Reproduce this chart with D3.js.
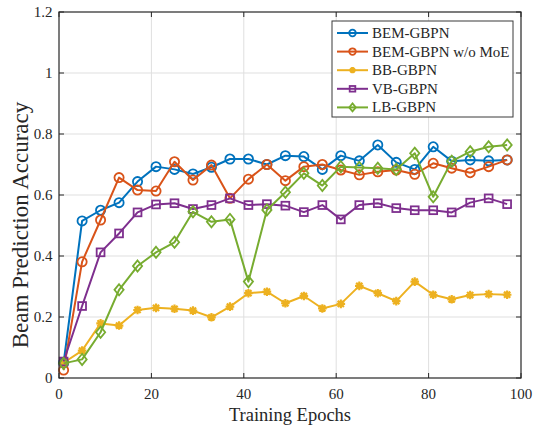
<!DOCTYPE html>
<html>
<head>
<meta charset="utf-8">
<script src="https://cdn.jsdelivr.net/npm/d3@7"></script>
<style>
  html, body { margin: 0; padding: 0; background: #fff; }
  svg { display: block; }
  text { font-family: "Liberation Serif", "Times New Roman", serif; fill: #262626; }
</style>
</head>
<body>
<svg id="chart" width="537" height="426"></svg>
<script>
// Training epochs at which accuracy was evaluated
const epochs = [1, 5, 9, 13, 17, 21, 25, 29, 33, 37, 41, 45, 49, 53, 57, 61, 65, 69, 73, 77, 81, 85, 89, 93, 97];

// Beam prediction accuracy per model
const bemGbpn = [0.050, 0.515, 0.550, 0.575, 0.644, 0.693, 0.684, 0.669, 0.691, 0.718, 0.718, 0.700, 0.729, 0.726, 0.684, 0.729, 0.712, 0.764, 0.707, 0.684, 0.758, 0.711, 0.715, 0.712, 0.715];
const bemGbpnNoMoe = [0.026, 0.381, 0.518, 0.657, 0.616, 0.613, 0.709, 0.649, 0.698, 0.589, 0.652, 0.700, 0.647, 0.693, 0.700, 0.682, 0.666, 0.676, 0.682, 0.668, 0.704, 0.688, 0.673, 0.693, 0.715];
const bbGbpn = [0.050, 0.090, 0.179, 0.172, 0.223, 0.230, 0.227, 0.221, 0.199, 0.234, 0.278, 0.283, 0.245, 0.269, 0.228, 0.243, 0.302, 0.278, 0.252, 0.316, 0.273, 0.258, 0.272, 0.275, 0.273];
const vbGbpn = [0.054, 0.236, 0.412, 0.474, 0.543, 0.569, 0.573, 0.554, 0.567, 0.589, 0.567, 0.570, 0.565, 0.544, 0.567, 0.520, 0.567, 0.573, 0.557, 0.550, 0.550, 0.543, 0.575, 0.589, 0.570];
const lbGbpn = [0.048, 0.061, 0.150, 0.289, 0.367, 0.412, 0.445, 0.545, 0.512, 0.520, 0.316, 0.551, 0.609, 0.671, 0.631, 0.693, 0.690, 0.688, 0.684, 0.737, 0.594, 0.711, 0.742, 0.758, 0.764];

const seriesNames = ["BEM-GBPN", "BEM-GBPN w/o MoE", "BB-GBPN", "VB-GBPN", "LB-GBPN"];
const seriesValues = [bemGbpn, bemGbpnNoMoe, bbGbpn, vbGbpn, lbGbpn];
const seriesColors = ["#0072BD", "#D95319", "#EDB120", "#7E2F8E", "#77AC30"];
const seriesMarkers = ["circle", "circle", "asterisk", "square", "diamond"];

const xTicks = [0, 20, 40, 60, 80, 100];
const yTicks = [0, 0.2, 0.4, 0.6, 0.8, 1.0, 1.2];
const yTickLabels = ["0", "0.2", "0.4", "0.6", "0.8", "1", "1.2"];

const margin = { left: 59, right: 16, top: 12, bottom: 48 };
const W = 537, H = 426;
const plotL = margin.left, plotR = W - margin.right, plotT = margin.top, plotB = H - margin.bottom;

const x = d3.scaleLinear().domain([0, 100]).range([plotL, plotR]);
const y = d3.scaleLinear().domain([0, 1.2]).range([plotB, plotT]);

const svg = d3.select("#chart");
const axisColor = "#262626";

// grid
const grid = svg.append("g");
grid.selectAll(".gx").data(xTicks.slice(1, -1)).join("line")
  .attr("x1", d => x(d)).attr("x2", d => x(d))
  .attr("y1", plotT).attr("y2", plotB)
  .attr("stroke", "#dfdfdf").attr("stroke-width", 1);
grid.selectAll(".gy").data(yTicks.slice(1, -1)).join("line")
  .attr("x1", plotL).attr("x2", plotR)
  .attr("y1", d => y(d)).attr("y2", d => y(d))
  .attr("stroke", "#dfdfdf").attr("stroke-width", 1);

// marker drawing
function drawMarker(g, type, color, s) {
  if (type === "circle") {
    g.append("circle").attr("r", 4.6 * s).attr("fill", "none")
      .attr("stroke", color).attr("stroke-width", 1.8);
  } else if (type === "square") {
    const h = 3.9 * s;
    g.append("rect").attr("x", -h).attr("y", -h).attr("width", 2 * h).attr("height", 2 * h)
      .attr("fill", "none").attr("stroke", color).attr("stroke-width", 1.8);
  } else if (type === "diamond") {
    const w = 4.6 * s, h = 5.6 * s;
    g.append("path").attr("d", `M0,${-h}L${w},0L0,${h}L${-w},0Z`)
      .attr("fill", "none").attr("stroke", color).attr("stroke-width", 1.8);
  } else if (type === "asterisk") {
    const r = 4.3 * s, rd = r * 0.72;
    g.append("path")
      .attr("d", `M${-r},0L${r},0M0,${-r}L0,${r}M${-rd},${-rd}L${rd},${rd}M${-rd},${rd}L${rd},${-rd}`)
      .attr("stroke", color).attr("stroke-width", 2.2).attr("fill", "none");
    g.append("circle").attr("r", 2.4 * s).attr("fill", color);
  }
}

// series
const line = d3.line().x(d => x(d[0])).y(d => y(d[1]));
seriesValues.forEach((vals, i) => {
  const pts = epochs.map((e, j) => [e, vals[j]]);
  const g = svg.append("g");
  g.append("path").datum(pts).attr("d", line)
    .attr("fill", "none").attr("stroke", seriesColors[i]).attr("stroke-width", 2)
    .attr("stroke-linejoin", "round");
  pts.forEach(p => {
    const mg = g.append("g").attr("transform", `translate(${x(p[0])},${y(p[1])})`);
    drawMarker(mg, seriesMarkers[i], seriesColors[i], 1);
  });
});

// axes box and mirrored ticks
const axes = svg.append("g");
axes.append("rect").attr("x", plotL).attr("y", plotT)
  .attr("width", plotR - plotL).attr("height", plotB - plotT)
  .attr("fill", "none").attr("stroke", axisColor).attr("stroke-width", 1.2);
const tl = 5;
xTicks.forEach(t => {
  axes.append("line").attr("x1", x(t)).attr("x2", x(t)).attr("y1", plotB).attr("y2", plotB - tl)
    .attr("stroke", axisColor).attr("stroke-width", 1);
  axes.append("line").attr("x1", x(t)).attr("x2", x(t)).attr("y1", plotT).attr("y2", plotT + tl)
    .attr("stroke", axisColor).attr("stroke-width", 1);
  axes.append("text").attr("x", x(t)).attr("y", plotB + 20.5)
    .attr("text-anchor", "middle").attr("font-size", 15).text(t);
});
yTicks.forEach((t, i) => {
  axes.append("line").attr("x1", plotL).attr("x2", plotL + tl).attr("y1", y(t)).attr("y2", y(t))
    .attr("stroke", axisColor).attr("stroke-width", 1);
  axes.append("line").attr("x1", plotR).attr("x2", plotR - tl).attr("y1", y(t)).attr("y2", y(t))
    .attr("stroke", axisColor).attr("stroke-width", 1);
  axes.append("text").attr("x", plotL - 6.5).attr("y", y(t) + 5)
    .attr("text-anchor", "end").attr("font-size", 15).text(yTickLabels[i]);
});

// axis titles
svg.append("text").attr("x", (plotL + plotR) / 2).attr("y", 421)
  .attr("text-anchor", "middle").attr("font-size", 18.5).text("Training Epochs");
svg.append("text").attr("transform", "translate(28,225) rotate(-90)")
  .attr("text-anchor", "middle").attr("font-size", 23).text("Beam Prediction Accuracy");

// legend
const leg = svg.append("g");
leg.append("rect").attr("x", 332).attr("y", 21).attr("width", 181).attr("height", 96)
  .attr("fill", "#fff").attr("stroke", "#3a3a3a").attr("stroke-width", 1);
seriesNames.forEach((name, i) => {
  const cy = 33 + i * 18.6;
  const row = leg.append("g");
  row.append("line").attr("x1", 337).attr("x2", 368).attr("y1", cy).attr("y2", cy)
    .attr("stroke", seriesColors[i]).attr("stroke-width", 2);
  const mg = row.append("g").attr("transform", `translate(352.5,${cy})`);
  drawMarker(mg, seriesMarkers[i], seriesColors[i], 0.72);
  row.append("text").attr("x", 372).attr("y", cy + 5).attr("font-size", 15).text(name);
});
</script>
</body>
</html>
